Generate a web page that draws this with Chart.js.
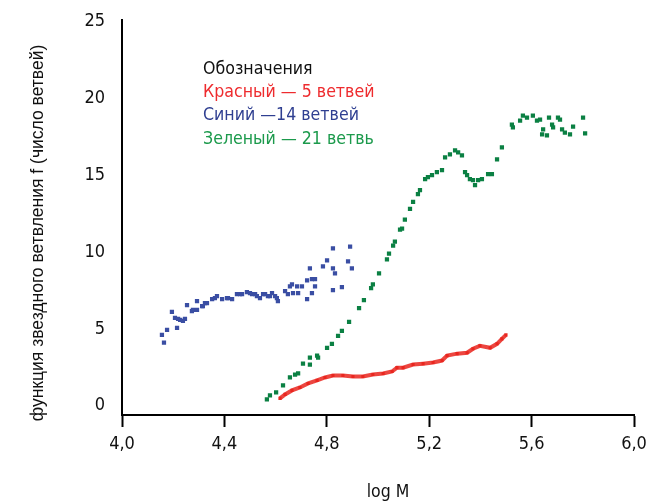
<!DOCTYPE html>
<html>
<head>
<meta charset="utf-8">
<script src="https://cdn.jsdelivr.net/npm/chart.js@4"></script>
<style>
  html, body { margin: 0; padding: 0; background: #fff; }
</style>
</head>
<body>
<canvas id="chart" width="647" height="502"></canvas>
<script>
// Données (log M, f)
const xTicks = [4.0, 4.4, 4.8, 5.2, 5.6, 6.0];
const yTicks = [0, 5, 10, 15, 20, 25];

const redX = [4.617, 4.637, 4.664, 4.695, 4.727, 4.762, 4.793, 4.824, 4.863, 4.902, 4.941, 4.98, 5.02, 5.055, 5.074, 5.098, 5.137, 5.176, 5.215, 5.25, 5.27, 5.309, 5.348, 5.371, 5.398, 5.438, 5.465, 5.484, 5.5];
const redY = [0.48, 0.74, 1.0, 1.19, 1.45, 1.65, 1.84, 1.97, 1.97, 1.9, 1.9, 2.03, 2.1, 2.23, 2.48, 2.48, 2.68, 2.74, 2.81, 2.94, 3.26, 3.39, 3.45, 3.71, 3.9, 3.77, 4.03, 4.35, 4.61];

const blueX = [4.164, 4.156, 4.176, 4.195, 4.207, 4.215, 4.227, 4.219, 4.238, 4.246, 4.254, 4.273, 4.277, 4.293, 4.293, 4.313, 4.316, 4.324, 4.332, 4.352, 4.363, 4.371, 4.391, 4.41, 4.414, 4.43, 4.449, 4.461, 4.469, 4.488, 4.5, 4.508, 4.52, 4.527, 4.539, 4.551, 4.559, 4.57, 4.578, 4.586, 4.598, 4.605, 4.609, 4.637, 4.648, 4.656, 4.664, 4.668, 4.684, 4.688, 4.703, 4.723, 4.723, 4.734, 4.742, 4.742, 4.754, 4.754, 4.785, 4.801, 4.824, 4.824, 4.824, 4.832, 4.859, 4.883, 4.891, 4.898];
const blueY = [4.1, 4.61, 4.94, 6.1, 5.71, 5.06, 5.58, 5.65, 5.52, 5.65, 6.55, 6.16, 6.23, 6.23, 6.81, 6.48, 6.48, 6.68, 6.68, 6.94, 7.0, 7.13, 6.94, 7.0, 7.0, 6.94, 7.26, 7.26, 7.26, 7.39, 7.32, 7.26, 7.26, 7.13, 7.0, 7.26, 7.26, 7.13, 7.13, 7.32, 7.13, 7.0, 6.81, 7.45, 7.26, 7.77, 7.9, 7.32, 7.77, 7.32, 7.77, 6.94, 8.16, 8.94, 8.23, 7.32, 8.23, 7.77, 9.06, 9.45, 8.94, 7.52, 10.23, 8.61, 7.71, 9.39, 10.35, 8.94];

const greenX = [4.566, 4.578, 4.602, 4.629, 4.656, 4.676, 4.688, 4.707, 4.734, 4.734, 4.762, 4.766, 4.801, 4.82, 4.844, 4.859, 4.887, 4.926, 4.945, 4.973, 4.98, 5.004, 5.035, 5.043, 5.059, 5.066, 5.086, 5.094, 5.105, 5.125, 5.137, 5.156, 5.164, 5.184, 5.195, 5.211, 5.23, 5.25, 5.262, 5.281, 5.301, 5.313, 5.328, 5.34, 5.348, 5.359, 5.371, 5.379, 5.391, 5.406, 5.43, 5.445, 5.465, 5.484, 5.523, 5.527, 5.555, 5.566, 5.582, 5.605, 5.621, 5.633, 5.645, 5.641, 5.66, 5.668, 5.68, 5.684, 5.703, 5.711, 5.719, 5.73, 5.75, 5.762, 5.801, 5.809];
const greenY = [0.42, 0.68, 0.87, 1.32, 1.84, 2.03, 2.1, 2.74, 2.68, 3.13, 3.26, 3.13, 3.77, 4.03, 4.55, 4.87, 5.45, 6.35, 6.87, 7.65, 7.9, 8.61, 9.52, 9.9, 10.42, 10.68, 11.45, 11.52, 12.1, 12.81, 13.26, 13.77, 14.03, 14.74, 14.87, 15.0, 15.19, 15.32, 16.16, 16.35, 16.61, 16.48, 16.29, 15.19, 15.0, 14.74, 14.68, 14.35, 14.68, 14.74, 15.06, 15.06, 16.03, 16.81, 18.29, 18.1, 18.55, 18.87, 18.74, 18.87, 18.55, 18.61, 17.97, 17.65, 17.58, 18.74, 18.29, 18.1, 18.74, 18.61, 17.97, 17.77, 17.65, 18.16, 18.74, 17.71];

const legendTitle = 'Обозначения';
const legendLabels = ['Красный — 5 ветвей', 'Синий —14 ветвей', 'Зеленый — 21 ветвь'];
const legendColors = ['#ee2b2e', '#2f3f91', '#1c9a4c'];
const xTitle = 'log M';
const yTitle = 'функция звездного ветвления f (число ветвей)';

const narrow = "'Liberation Sans Narrow', 'DejaVu Sans Condensed', 'Liberation Sans', sans-serif";
const regular = "'Liberation Sans', Arial, sans-serif";

function toPoints(xs, ys) {
  return xs.map((x, i) => ({ x: x, y: ys[i] }));
}

// Textes : légende et titres des axes
const textPlugin = {
  id: 'textes',
  afterDraw(chart) {
    const ctx = chart.ctx;
    ctx.save();
    ctx.textBaseline = 'middle';
    ctx.textAlign = 'left';
    ctx.font = '17.6px ' + narrow;
    ctx.fillStyle = '#111';
    ctx.fillText(legendTitle, 203, 69);
    legendLabels.forEach((t, i) => {
      ctx.fillStyle = legendColors[i];
      ctx.fillText(t, 203, 92 + i * 23.5);
    });

    ctx.textAlign = 'center';
    ctx.fillStyle = '#111';
    ctx.font = '17.5px ' + narrow;
    ctx.fillText(xTitle, 388, 492);

    ctx.translate(38, 233);
    ctx.rotate(-Math.PI / 2);
    ctx.font = '17.5px ' + regular;
    ctx.fillText(yTitle, 0, 0);
    ctx.restore();
  }
};

const pointOpts = { pointStyle: 'rect', pointRadius: 3, pointBorderWidth: 0, pointHoverRadius: 3 };

new Chart(document.getElementById('chart'), {
  type: 'scatter',
  data: {
    datasets: [
      Object.assign({ label: 'Красный', data: toPoints(redX, redY), backgroundColor: '#e9261f', borderColor: 'rgba(233,38,31,0.85)', showLine: true, borderWidth: 4 }, pointOpts, { pointRadius: 2.2 }),
      Object.assign({ label: 'Синий', data: toPoints(blueX, blueY), backgroundColor: '#3a4ea3' }, pointOpts),
      Object.assign({ label: 'Зеленый', data: toPoints(greenX, greenY), backgroundColor: '#0b8043' }, pointOpts)
    ]
  },
  options: {
    responsive: false,
    animation: false,
    layout: { padding: { top: 17, right: 13, bottom: 0, left: 0 } },
    plugins: { legend: { display: false }, tooltip: { enabled: false } },
    scales: {
      x: {
        type: 'linear',
        min: 4,
        max: 6,
        afterBuildTicks: s => { s.ticks = xTicks.map(v => ({ value: v })); },
        afterFit: s => { s.height = 87; s.paddingRight = 0; s.paddingLeft = 0; },
        ticks: {
          callback: v => v.toFixed(1).replace('.', ','),
          font: { family: narrow, size: 18 },
          color: '#111',
          padding: 7
        },
        grid: { display: true, drawOnChartArea: false, drawTicks: true, tickLength: 12, tickWidth: 2, tickColor: '#000' },
        border: { display: true, color: '#000', width: 2 }
      },
      y: {
        type: 'linear',
        min: -0.6,
        max: 25.1,
        afterBuildTicks: s => { s.ticks = yTicks.map(v => ({ value: v })); },
        afterFit: s => { s.width = 122; },
        ticks: {
          font: { family: narrow, size: 18 },
          color: '#111',
          padding: 9
        },
        grid: { display: false },
        border: { display: true, color: '#000', width: 2 }
      }
    }
  },
  plugins: [textPlugin]
});
</script>
</body>
</html>
